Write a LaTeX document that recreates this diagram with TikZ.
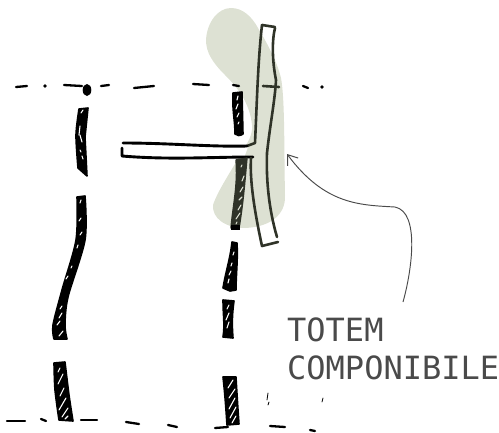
\documentclass[tikz,border=0pt]{standalone}
\usepackage{fontspec}
\setmonofont{DejaVu Sans Mono}
\usetikzlibrary{arrows.meta}
\definecolor{sage}{HTML}{DDE1D3}
\definecolor{ink}{HTML}{2F3328}
\definecolor{labelgray}{HTML}{4A4A4A}
\tikzset{
  x=1pt,y=-1pt,
  mass/.style={fill=black,draw=black,line width=1.6pt,line join=round},
  darkmass/.style={fill=ink,draw=ink,line width=1.4pt,line join=round},
  gap/.style={draw=white,line width=1.1pt,line cap=round},
  softgap/.style={draw=sage,line width=1.1pt,line cap=round},
  dashmark/.style={draw=black,line width=2.3pt,line cap=round},
  speck/.style={draw=black,line width=.8pt,line cap=round},
  wall/.style={draw=ink,line width=2.6pt,line cap=round,line join=round},
  barline/.style={draw=black,line width=2.9pt,line cap=round,line join=round},
  pointer/.style={draw=labelgray,line width=.95pt,-{Straight Barb[length=9pt,width=13pt,line width=1pt]}},
  caption/.style={font=\ttfamily\fontsize{32}{38}\selectfont,text=labelgray,inner sep=0pt,anchor=base west}
}
\begin{document}
\begin{tikzpicture}
\useasboundingbox (0,0) rectangle (499,432);
% green blob
\fill[sage] (231,8) .. controls (243,8) and (252,17) .. (258,28)
  .. controls (265,40) and (276,58) .. (281,78)
  .. controls (285,100) and (284,150) .. (285,195)
  .. controls (286,215) and (270,227) .. (245,228)
  .. controls (225,228) and (212,218) .. (213,205)
  .. controls (218,190) and (232,170) .. (240,155)
  .. controls (248,142) and (253,135) .. (252,125)
  .. controls (250,105) and (240,90) .. (225,75)
  .. controls (212,62) and (206,52) .. (206,40)
  .. controls (207,22) and (218,8) .. (231,8) -- cycle;
% dashes top
\foreach \a/\b/\c/\d in {16/87/27/86,64/85/82/86,101/86/109/85,134/88/154/86,193/84/209/85,233/85/239/86,303/86/308/88}
  \draw[dashmark] (\a,\b) -- (\c,\d);
\fill (45,86) circle (1.8);
\fill (322,87) circle (1.8);
\fill (87,90) ellipse (4.3 and 6);
% left column
\path[mass] plot[smooth] coordinates {(79,109) (76,135) (78,168)} -- (87,176)
  -- plot[smooth] coordinates {(85,137) (88,108)} -- cycle;
\draw[gap] (80,126) -- (79,135);
\draw[gap] (80,135) -- (82,142);
\draw[gap] (83,110) -- (81,113);
\draw[gap] (80,150) -- (81,152);
\draw[gap] (82,156) -- (83,159);
\path[mass] plot[smooth] coordinates {(77,197) (76,240) (62,290) (53,325) (54,339)}
  -- plot[smooth] coordinates {(67,339) (65,325) (68,297) (85,240) (85,196)} -- cycle;
\foreach \a/\b/\c/\d in {81/200/80/203,81/218/79/221,82/232/80/235,78/245/77/248,72/266/71/268,68/276/66/279,62/306/60/309,62/313/59/318,60/321/57/325,63/331/59/336}
  \draw[gap] (\a,\b) -- (\c,\d);
\path[mass] plot[smooth] coordinates {(54,363) (55,390) (59,420)}
  -- plot[smooth] coordinates {(73,421) (69,395) (65,362)} -- cycle;
\foreach \a/\b/\c/\d in {60/368/58/372,63/374/58/384,64/388/60/396,66/398/59/410,68/408/62/417,68/416/65/419}
  \draw[gap] (\a,\b) -- (\c,\d);
% right column
\path[mass] (233,93) -- (242,92) -- (243,134) .. controls (240,136) and (237,136) .. (235,134) .. controls (235,120) and (232,110) .. (233,93) -- cycle;
\foreach \a/\b/\c/\d in {238/96/237/100,238/104/236/109,239/113/237/117,239/122/238/124}
  \draw[gap] (\a,\b) -- (\c,\d);
% totem
\fill[white] (123,144) -- (248,147) -- (244,158) -- (122,158) -- cycle;
\draw[wall] (262,25) -- (275,27);
\draw[wall] (275,28) .. controls (272,40) and (272,60) .. (276,80) .. controls (275,100) and (270,125) .. (267,153) .. controls (266,180) and (269,210) .. (277,237);
\draw[wall] (262,25) .. controls (258,60) and (257,100) .. (255,143) -- (247,146);
\draw[barline] (123,143) .. controls (170,143) and (210,147) .. (247,146);
\draw[barline] (122,148) -- (122,156) .. controls (170,160) and (210,157) .. (253,157);
\draw[wall] (251,158) .. controls (250,175) and (252,200) .. (262,246) -- (278,242);
\draw[wall] (263,86) -- (279,87);
% dark piece
\path[darkmass] (236,160) -- (247,158) .. controls (245,180) and (243,205) .. (239,228) -- (231,228) .. controls (233,205) and (238,185) .. (236,160) -- cycle;
\foreach \a/\b/\c/\d in {242/165/241/167,244/176/242/181,243/187/240/192,242/197/239/200,241/205/238/210,240/213/236/219,237/222/236/224}
  \draw[softgap] (\a,\b) -- (\c,\d);
\fill[black] (231,225) rectangle (240,230);
% lower right column
\path[mass] (232,242) -- (237,243) .. controls (238,260) and (236,275) .. (236,290) -- (230,291) -- (223,288) .. controls (226,270) and (230,260) .. (232,242) -- cycle;
\foreach \a/\b/\c/\d in {234/252/233/255,232/263/231/266,231/271/229/275,229/279/228/283}
  \draw[gap] (\a,\b) -- (\c,\d);
\path[mass] (223,300) -- (234,301) .. controls (232,315) and (232,325) .. (233,338) -- (223,337) .. controls (225,325) and (223,315) .. (223,300) -- cycle;
\foreach \a/\b/\c/\d in {229/305/227/309,229/313/226/320,229/322/227/328}
  \draw[gap] (\a,\b) -- (\c,\d);
\path[mass] (223,377) -- (236,377) .. controls (237,395) and (238,410) .. (239,424) -- (227,425) .. controls (226,410) and (225,395) .. (223,377) -- cycle;
\foreach \a/\b/\c/\d in {233/380/228/388,235/389/229/398,235/398/229/409,236/407/230/418,236/416/232/423}
  \draw[gap] (\a,\b) -- (\c,\d);
% dashes bottom
\foreach \a/\b/\c/\d in {7/421/25/421,41/419/46/421,81/420/97/420,126/422/139/424,168/425/177/427,215/428/228/427,270/426/285/427,310/430/315/431}
  \draw[dashmark] (\a,\b) -- (\c,\d);
\foreach \a/\b/\c/\d in {268/393/267/400,323/398/322/402,269/402/268/405}
  \draw[speck] (\a,\b) -- (\c,\d);
% label and pointer
\node[caption] (totem) at (287,341) {TOTEM};
\node[caption] (compo) at (287,379) {COMPONIBILE};
\coordinate (tail) at (403,302);
\coordinate (tip) at (287,154);
\draw[pointer] (tail) .. controls (412,270) and (420,212) .. (395,207) .. controls (360,205) and (325,205) .. (tip);
\end{tikzpicture}
\end{document}
